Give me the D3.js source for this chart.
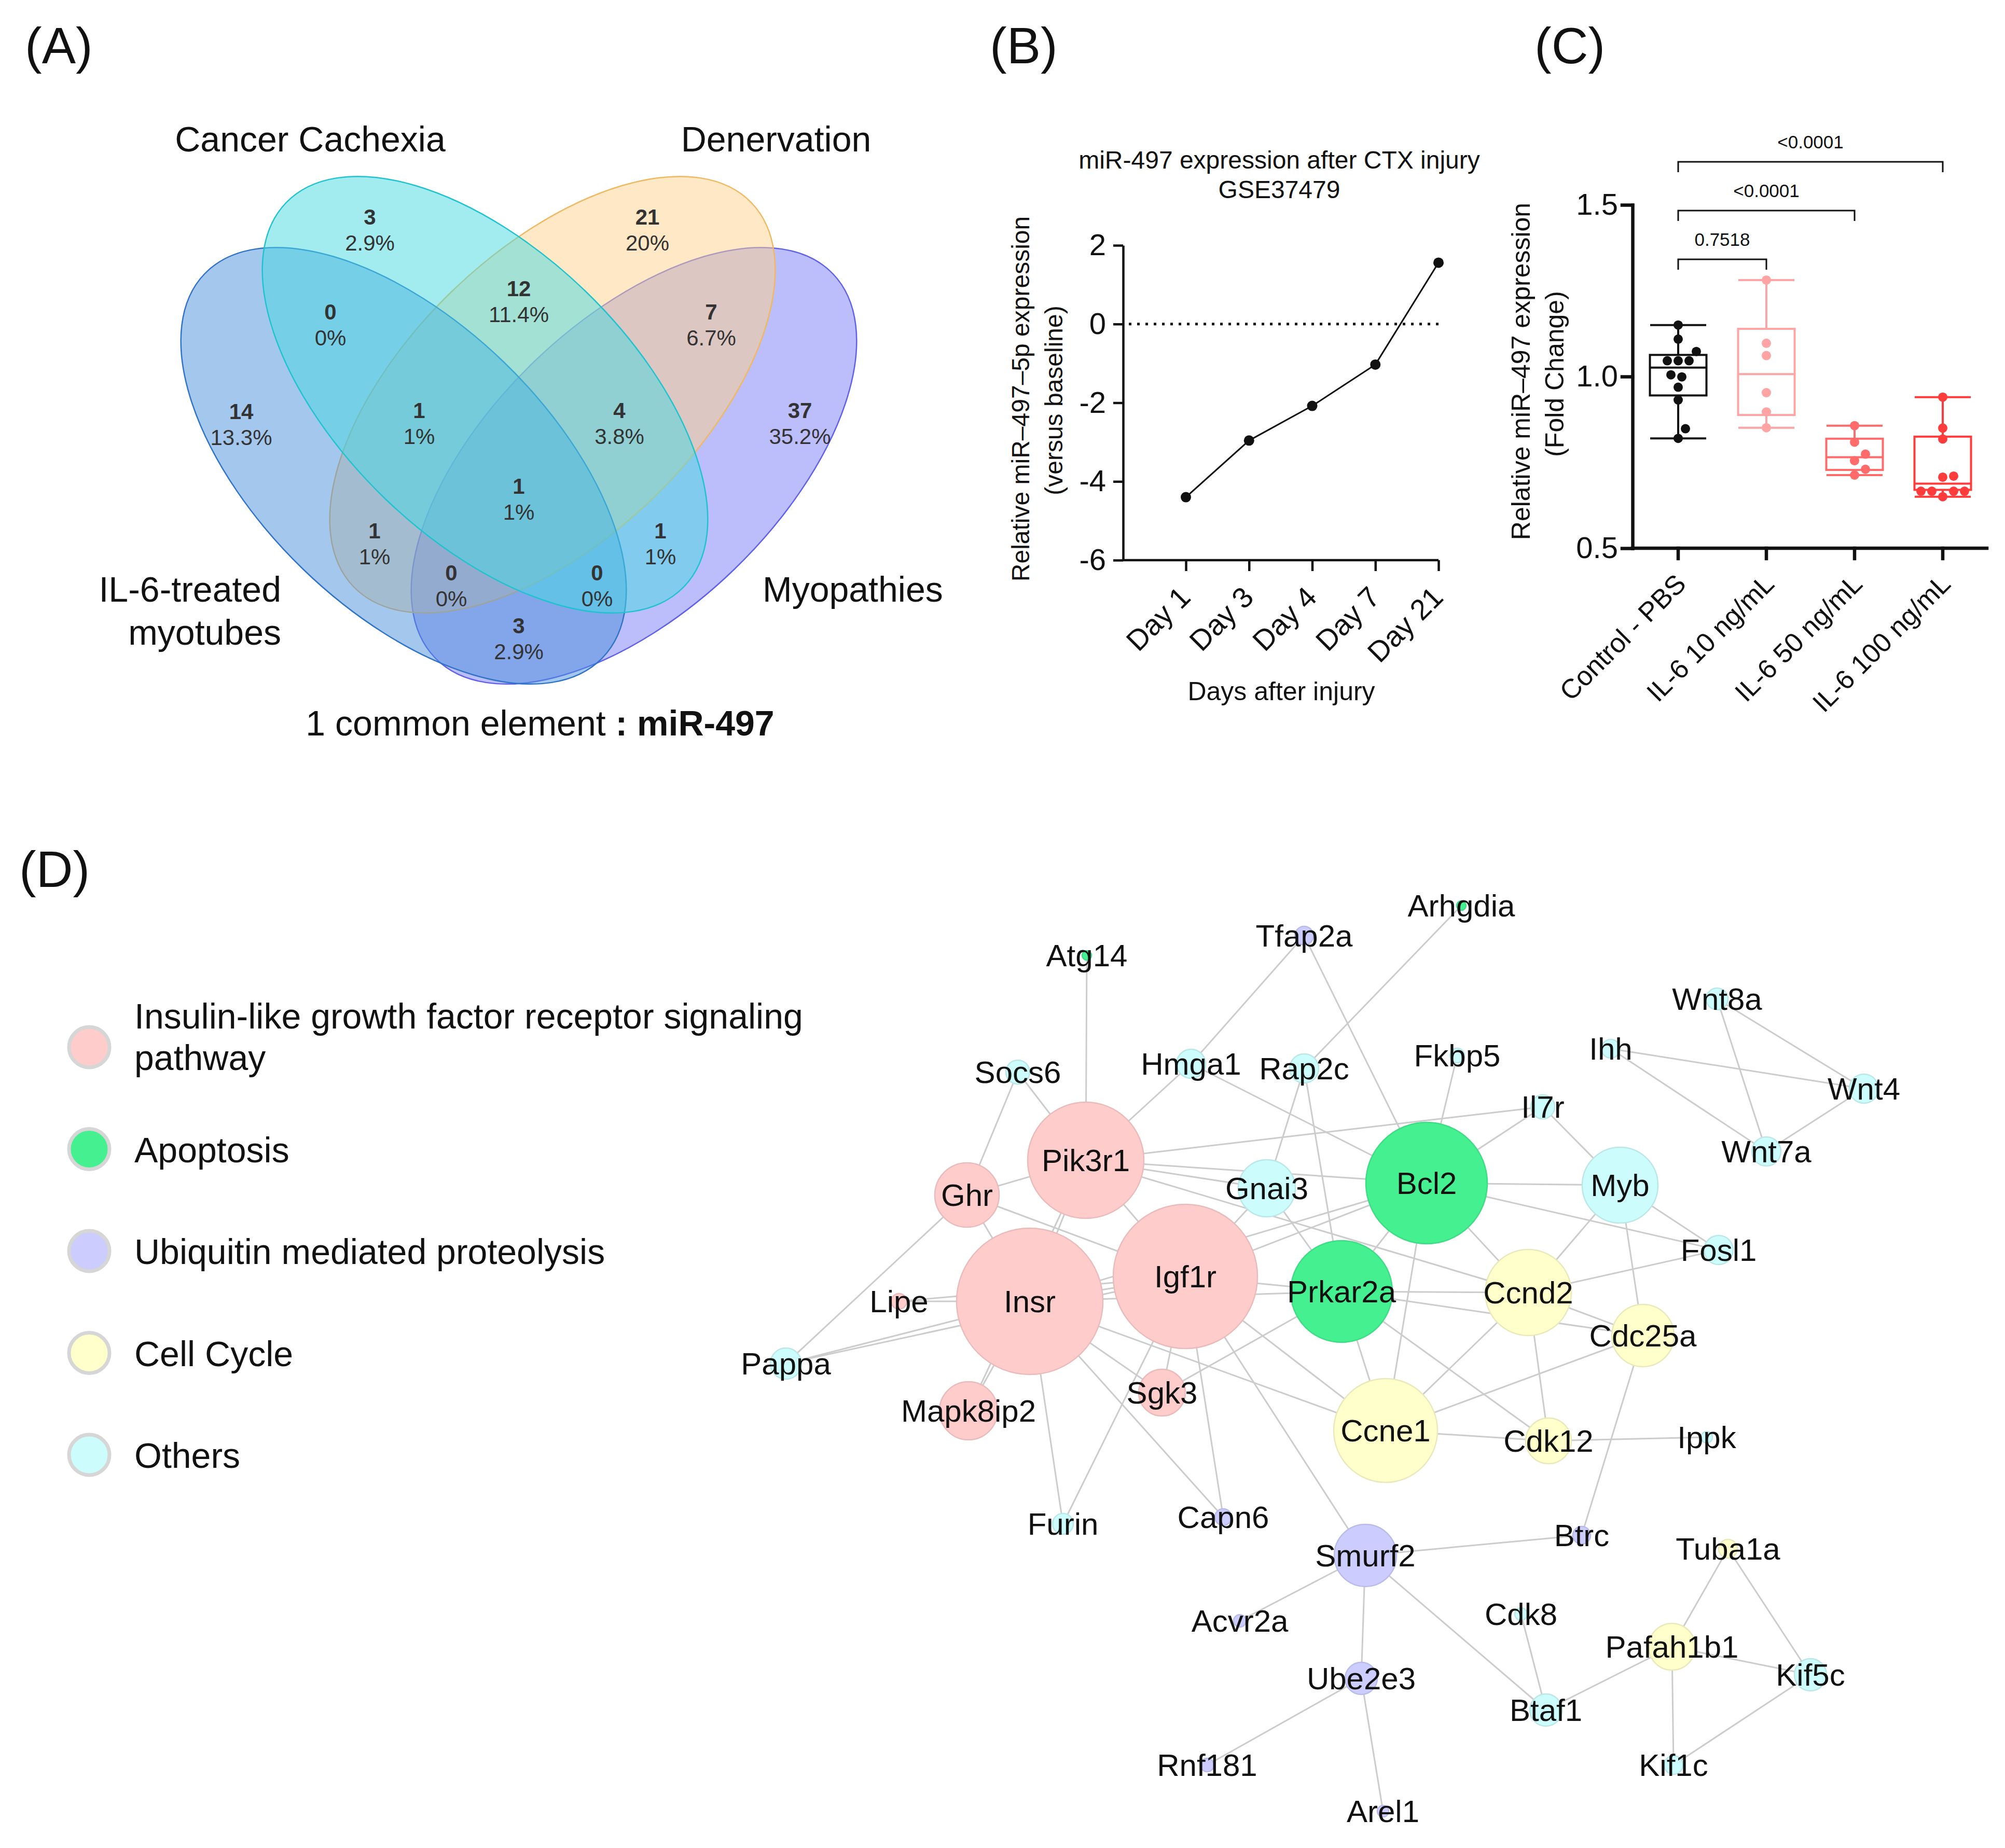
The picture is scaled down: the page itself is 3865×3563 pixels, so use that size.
<!DOCTYPE html>
<html>
<head>
<meta charset="utf-8">
<script src="https://cdn.jsdelivr.net/npm/d3@7"></script>
<style>
  html, body { margin: 0; padding: 0; background: #fff; }
  svg { display: block; font-family: "Liberation Sans", Arial, sans-serif; }
</style>
</head>
<body>
<div id="fig"></div>
<script>
// ---------- data ----------
// (A) Venn
const vennNames = ["IL-6-treated myotubes", "Cancer Cachexia", "Denervation", "Myopathies"];
const regionKeys = ["A", "B", "C", "D", "AB", "BC", "CD", "ABC", "BCD", "ABCD", "AC", "BD", "ACD", "ABD", "AD"];
const regionCounts = [14, 3, 21, 37, 0, 12, 7, 1, 4, 1, 1, 1, 0, 0, 3];
const commonElement = "miR-497";

// (B) line chart
const days = ["Day 1", "Day 3", "Day 4", "Day 7", "Day 21"];
const mirValues = [-4.40, -2.96, -2.08, -1.03, 1.56];
const yTicksB = [-6, -4, -2, 0, 2];

// (C) box plot
const groupsC = ["Control - PBS", "IL-6 10 ng/mL", "IL-6 50 ng/mL", "IL-6 100 ng/mL"];
const pointsC = [
  [1.150, 1.109, 1.073, 1.046, 1.046, 1.046, 1.005, 0.999, 0.969, 0.932, 0.848, 0.820],
  [1.281, 1.097, 1.061, 0.953, 0.897, 0.851],
  [0.857, 0.809, 0.774, 0.755, 0.730, 0.713],
  [0.940, 0.850, 0.818, 0.710, 0.707, 0.666, 0.666, 0.666, 0.666, 0.650]
];
const q1C = [0.945, 0.888, 0.728, 0.670];
const medianC = [1.026, 1.007, 0.765, 0.688];
const q3C = [1.063, 1.139, 0.819, 0.825];
const yTicksC = [0.5, 1.0, 1.5];
const comparisons = [[0, 1, "0.7518"], [0, 2, "<0.0001"], [0, 3, "<0.0001"]];

// (D) network
const legendNames = ["Insulin-like growth factor receptor signaling pathway", "Apoptosis",
  "Ubiquitin mediated proteolysis", "Cell Cycle", "Others"];
const genes = ["Insr", "Igf1r", "Pik3r1", "Ghr", "Mapk8ip2", "Sgk3", "Lipe", "Bcl2", "Prkar2a", "Atg14",
  "Arhgdia", "Ccne1", "Ccnd2", "Cdc25a", "Cdk12", "Pafah1b1", "Tuba1a", "Smurf2", "Ube2e3", "Capn6",
  "Btrc", "Tfap2a", "Rnf181", "Arel1", "Acvr2a", "Myb", "Gnai3", "Hmga1", "Rap2c", "Socs6",
  "Pappa", "Furin", "Il7r", "Fosl1", "Wnt8a", "Ihh", "Wnt4", "Wnt7a", "Kif5c", "Btaf1",
  "Kif1c", "Cdk8", "Ippk", "Fkbp5"];
const geneGroup = [0, 0, 0, 0, 0, 0, 0, 1, 1, 1,
  1, 3, 3, 3, 3, 3, 3, 2, 2, 2,
  2, 2, 2, 2, 2, 4, 4, 4, 4, 4,
  4, 4, 4, 4, 4, 4, 4, 4, 4, 4,
  4, 4, 4, 4];
const geneSize = [282, 278, 224, 124, 112, 90, 30, 234, 196, 18,
  18, 200, 166, 120, 88, 90, 36, 120, 62, 32,
  34, 36, 26, 22, 24, 146, 110, 56, 56, 46,
  60, 40, 46, 56, 42, 36, 56, 56, 62, 62,
  36, 24, 22, 28];
// network layout coordinates (layout units)
const layoutX = [585, 885, 693, 464, 467, 840, 333, 1350, 1186, 695,
  1417, 1271, 1546, 1767, 1585, 1823, 1931, 1232, 1224, 958,
  1649, 1114, 927, 1266, 990, 1723, 1042, 896, 1114, 562,
  115, 649, 1574, 1913, 1910, 1705, 2193, 2005, 2090, 1580,
  1826, 1532, 1890, 1409];
const layoutY = [809, 761, 537, 604, 1020, 985, 809, 581, 790, 142,
  46, 1058, 792, 875, 1078, 1475, 1286, 1299, 1536, 1225,
  1260, 104, 1703, 1792, 1425, 585, 591, 351, 360, 367,
  929, 1238, 434, 710, 226, 322, 399, 520, 1529, 1597,
  1703, 1412, 1071, 335];
const edges = [
  ["Pik3r1", "Atg14"], ["Pik3r1", "Socs6"], ["Pik3r1", "Ghr"], ["Pik3r1", "Insr"], ["Pik3r1", "Igf1r"],
  ["Pik3r1", "Hmga1"], ["Pik3r1", "Il7r"], ["Pik3r1", "Bcl2"], ["Pik3r1", "Gnai3"], ["Pik3r1", "Ccnd2"],
  ["Pik3r1", "Mapk8ip2"], ["Ghr", "Socs6"], ["Ghr", "Insr"], ["Ghr", "Igf1r"], ["Ghr", "Pappa"],
  ["Insr", "Igf1r"], ["Insr", "Lipe"], ["Insr", "Pappa"], ["Insr", "Mapk8ip2"], ["Insr", "Furin"],
  ["Insr", "Sgk3"], ["Insr", "Capn6"], ["Insr", "Ccne1"], ["Insr", "Bcl2"], ["Insr", "Prkar2a"],
  ["Igf1r", "Pappa"], ["Igf1r", "Lipe"], ["Igf1r", "Gnai3"], ["Igf1r", "Bcl2"], ["Igf1r", "Prkar2a"],
  ["Igf1r", "Ccne1"], ["Igf1r", "Sgk3"], ["Igf1r", "Capn6"], ["Igf1r", "Smurf2"], ["Igf1r", "Furin"],
  ["Sgk3", "Prkar2a"], ["Bcl2", "Hmga1"], ["Bcl2", "Tfap2a"], ["Bcl2", "Fkbp5"], ["Bcl2", "Il7r"],
  ["Bcl2", "Myb"], ["Bcl2", "Fosl1"], ["Bcl2", "Ccnd2"], ["Bcl2", "Prkar2a"], ["Bcl2", "Ccne1"],
  ["Tfap2a", "Hmga1"], ["Rap2c", "Arhgdia"], ["Rap2c", "Gnai3"], ["Rap2c", "Prkar2a"], ["Gnai3", "Prkar2a"],
  ["Prkar2a", "Ccnd2"], ["Prkar2a", "Ccne1"], ["Prkar2a", "Cdk12"], ["Prkar2a", "Cdc25a"], ["Ccne1", "Ccnd2"],
  ["Ccne1", "Cdc25a"], ["Ccne1", "Cdk12"], ["Ccnd2", "Myb"], ["Ccnd2", "Fosl1"], ["Ccnd2", "Cdc25a"],
  ["Ccnd2", "Cdk12"], ["Myb", "Il7r"], ["Myb", "Fosl1"], ["Myb", "Cdc25a"], ["Cdc25a", "Btrc"],
  ["Cdk12", "Ippk"], ["Wnt8a", "Wnt4"], ["Wnt8a", "Wnt7a"], ["Ihh", "Wnt4"], ["Ihh", "Wnt7a"],
  ["Wnt7a", "Wnt4"], ["Smurf2", "Btrc"], ["Smurf2", "Acvr2a"], ["Smurf2", "Ube2e3"], ["Smurf2", "Btaf1"],
  ["Ube2e3", "Rnf181"], ["Ube2e3", "Arel1"], ["Pafah1b1", "Tuba1a"], ["Pafah1b1", "Kif5c"], ["Pafah1b1", "Kif1c"],
  ["Pafah1b1", "Btaf1"], ["Tuba1a", "Kif5c"], ["Kif5c", "Kif1c"], ["Cdk8", "Btaf1"]
];

// ---------- page ----------
const W = 3865, H = 3563;
const svg = d3.select("#fig").append("svg").attr("width", W).attr("height", H);
svg.append("rect").attr("width", W).attr("height", H).attr("fill", "#fff");

const letterPos = [[48, 122], [1908, 122], [2958, 122], [37, 1710]];
svg.selectAll(".letter").data(["(A)", "(B)", "(C)", "(D)"]).join("text")
  .attr("class", "letter")
  .attr("x", (d, i) => letterPos[i][0]).attr("y", (d, i) => letterPos[i][1])
  .attr("font-size", 98).attr("fill", "#111").text(d => d);

// ---------- (A) Venn ----------
const vennFill = ["#4a90dc", "#45d9e1", "#fdd18b", "#7a7bf7"];
const vennStroke = ["#2f74c8", "#1fc3cf", "#f0b860", "#5f60ec"];
const ellCx = [778, 935, 1065, 1222], ellCy = [898, 761, 761, 898], ellRot = [44, 44, -44, -44];
const venn = svg.append("g");
venn.selectAll("ellipse").data([3, 2, 0, 1]).join("ellipse")
  .attr("transform", i => `translate(${ellCx[i]},${ellCy[i]}) rotate(${ellRot[i]})`)
  .attr("rx", 533).attr("ry", 278)
  .attr("fill", i => vennFill[i]).attr("fill-opacity", 0.5)
  .attr("stroke", i => vennStroke[i]).attr("stroke-width", 2.5);

// label anchor for every region
const regionPos = [[465, 793], [713, 418], [1248, 418], [1542, 791], [637, 601], [1000, 556], [1371, 601],
  [808, 791], [1194, 791], [1000, 937], [722, 1023], [1273, 1023], [870, 1104], [1151, 1104], [1000, 1206]];
const total = d3.sum(regionCounts);
const pct = v => d3.format(".1f")(v / total * 100).replace(/\.0$/, "") + "%";
const reg = venn.selectAll(".reg").data(regionKeys).join("g").attr("class", "reg")
  .attr("transform", (d, i) => `translate(${regionPos[i][0]},${regionPos[i][1]})`);
reg.append("text").attr("text-anchor", "middle").attr("dominant-baseline", "central")
  .attr("font-size", 42).attr("font-weight", "bold").attr("fill", "#333")
  .text((d, i) => regionCounts[i]);
reg.append("text").attr("text-anchor", "middle").attr("dominant-baseline", "central")
  .attr("y", 50).attr("font-size", 42).attr("fill", "#333")
  .text((d, i) => pct(regionCounts[i]));

const setLab = venn.append("g").attr("font-size", 68).attr("fill", "#111");
setLab.append("text").attr("x", 598).attr("y", 292).attr("text-anchor", "middle").text(vennNames[1]);
setLab.append("text").attr("x", 1496).attr("y", 292).attr("text-anchor", "middle").text(vennNames[2]);
setLab.append("text").attr("x", 542).attr("y", 1160).attr("text-anchor", "end").text("IL-6-treated");
setLab.append("text").attr("x", 542).attr("y", 1243).attr("text-anchor", "end").text("myotubes");
setLab.append("text").attr("x", 1470).attr("y", 1160).text(vennNames[3]);
const common = setLab.append("text").attr("x", 1041).attr("y", 1418).attr("text-anchor", "middle");
common.append("tspan").text(`${regionCounts[regionKeys.indexOf("ABCD")]} common element `);
common.append("tspan").attr("font-weight", "bold").text(": " + commonElement);

// ---------- (B) line chart ----------
const xB = d3.scalePoint().domain(days).range([2286, 2773]);
const yB = d3.scaleLinear().domain([-6, 2]).range([1080, 473]);
const gB = svg.append("g");
const yAxB = gB.append("g").attr("transform", "translate(2165,0)")
  .call(d3.axisLeft(yB).tickValues(yTicksB).tickFormat(d => String(d)).tickSize(19).tickSizeOuter(0).tickPadding(14));
const xAxB = gB.append("g").attr("transform", `translate(0,${yB(-6)})`)
  .call(d3.axisBottom(xB).tickSize(21).tickSizeOuter(0).tickFormat(""));
xAxB.select(".domain").attr("d", `M2165,0H${xB(days[days.length - 1])}`);
gB.selectAll(".domain, .tick line").attr("stroke", "#111").attr("stroke-width", 4.5);
yAxB.selectAll("text").attr("font-size", 58).attr("fill", "#111").attr("font-family", null);

gB.selectAll(".dayLab").data(days).join("text").attr("class", "dayLab")
  .attr("transform", d => `translate(${xB(d) + 12},${yB(-6) + 75}) rotate(-45)`)
  .attr("text-anchor", "end").attr("font-size", 56).attr("fill", "#111").text(d => d);

gB.append("line").attr("x1", 2176).attr("x2", xB(days[days.length - 1]))
  .attr("y1", yB(0)).attr("y2", yB(0))
  .attr("stroke", "#111").attr("stroke-width", 5).attr("stroke-dasharray", "5 11");

gB.append("path").datum(mirValues)
  .attr("d", d3.line().x((d, i) => xB(days[i])).y(d => yB(d)))
  .attr("fill", "none").attr("stroke", "#111").attr("stroke-width", 3);
gB.selectAll(".pt").data(mirValues).join("circle").attr("class", "pt")
  .attr("cx", (d, i) => xB(days[i])).attr("cy", d => yB(d)).attr("r", 10).attr("fill", "#111");

gB.append("text").attr("x", 2466).attr("y", 325).attr("text-anchor", "middle")
  .attr("font-size", 48).attr("fill", "#111").text("miR-497 expression after CTX injury");
gB.append("text").attr("x", 2466).attr("y", 382).attr("text-anchor", "middle")
  .attr("font-size", 48).attr("fill", "#111").text("GSE37479");
gB.append("text").attr("transform", "translate(1967,769) rotate(-90)").attr("text-anchor", "middle")
  .attr("dominant-baseline", "central").attr("font-size", 48).attr("fill", "#111")
  .text("Relative miR–497–5p expression");
gB.append("text").attr("transform", "translate(2031,772) rotate(-90)").attr("text-anchor", "middle")
  .attr("dominant-baseline", "central").attr("font-size", 48).attr("fill", "#111")
  .text("(versus baseline)");
gB.append("text").attr("x", 2470).attr("y", 1350).attr("text-anchor", "middle")
  .attr("font-size", 50).attr("fill", "#111").text("Days after injury");

// ---------- (C) box plot ----------
const colorsC = ["#111111", "#ffa4a4", "#ff6a6a", "#ff3c3c"];
const xC = d3.scaleBand().domain(groupsC).range([3150, 3830]);
const yC = d3.scaleLinear().domain([0.5, 1.5]).range([1057, 395]);
const gC = svg.append("g");
const yAxC = gC.append("g").attr("transform", "translate(3147,0)")
  .call(d3.axisLeft(yC).tickValues(yTicksC).tickFormat(d3.format(".1f")).tickSize(20).tickSizeOuter(0).tickPadding(8));
const xAxC = gC.append("g").attr("transform", `translate(0,${yC(0.5)})`)
  .call(d3.axisBottom(xC).tickSize(20).tickSizeOuter(0).tickFormat(""));
xAxC.select(".domain").attr("d", "M3147,0H3830");
gC.selectAll(".domain, .tick line").attr("stroke", "#111").attr("stroke-width", 6.5).attr("stroke-linecap", "square");
yAxC.selectAll("text").attr("font-size", 58).attr("fill", "#111").attr("font-family", null);

gC.selectAll(".grpLab").data(groupsC).join("text").attr("class", "grpLab")
  .attr("transform", d => `translate(${xC(d) + xC.bandwidth() / 2 + 18},${yC(0.5) + 72}) rotate(-45)`)
  .attr("text-anchor", "end").attr("font-size", 52).attr("fill", "#111").text(d => d);

const boxW = 109, capW = 54, dotR = 9;
groupsC.forEach((g, gi) => {
  const cx = xC(g) + xC.bandwidth() / 2;
  const col = colorsC[gi];
  const [mn, mx] = d3.extent(pointsC[gi]);
  const bg = gC.append("g").attr("stroke", col).attr("stroke-width", 4).attr("fill", "none");
  bg.append("line").attr("x1", cx).attr("x2", cx).attr("y1", yC(mx)).attr("y2", yC(q3C[gi]));
  bg.append("line").attr("x1", cx).attr("x2", cx).attr("y1", yC(q1C[gi])).attr("y2", yC(mn));
  bg.append("line").attr("x1", cx - capW).attr("x2", cx + capW).attr("y1", yC(mx)).attr("y2", yC(mx));
  bg.append("line").attr("x1", cx - capW).attr("x2", cx + capW).attr("y1", yC(mn)).attr("y2", yC(mn));
  bg.append("rect").attr("x", cx - boxW / 2).attr("width", boxW)
    .attr("y", yC(q3C[gi])).attr("height", yC(q1C[gi]) - yC(q3C[gi]));
  bg.append("line").attr("x1", cx - boxW / 2).attr("x2", cx + boxW / 2)
    .attr("y1", yC(medianC[gi])).attr("y2", yC(medianC[gi]));

  // simple beeswarm so dots do not overlap
  const placed = [];
  const order = pointsC[gi].slice().sort((a, b) => a - b);
  const steps = [0, 1, -1, 2, -2, 3, -3, 4, -4, 5, -5, 6, -6];
  order.forEach(v => {
    const y = yC(v);
    for (const s of steps) {
      const x = cx + s * 7;
      if (placed.every(p => Math.hypot(p.x - x, p.y - y) >= 2 * dotR + 2)) { placed.push({x, y}); break; }
    }
  });
  gC.append("g").selectAll("circle").data(placed).join("circle")
    .attr("cx", d => d.x).attr("cy", d => d.y).attr("r", dotR).attr("fill", col);
});

comparisons.forEach(([a, b, label], i) => {
  const xa = xC(groupsC[a]) + xC.bandwidth() / 2, xb = xC(groupsC[b]) + xC.bandwidth() / 2;
  const ly = 500 - i * 94;
  gC.append("path").attr("d", `M${xa},${ly + 20}V${ly}H${xb}V${ly + 20}`)
    .attr("fill", "none").attr("stroke", "#111").attr("stroke-width", 3);
  gC.append("text").attr("x", (xa + xb) / 2).attr("y", ly - 26).attr("text-anchor", "middle")
    .attr("font-size", 35).attr("fill", "#111").text(label);
});

gC.append("text").attr("transform", "translate(2932,716) rotate(-90)").attr("text-anchor", "middle")
  .attr("dominant-baseline", "central").attr("font-size", 50).attr("fill", "#111")
  .text("Relative miR–497 expression");
gC.append("text").attr("transform", "translate(2997,721) rotate(-90)").attr("text-anchor", "middle")
  .attr("dominant-baseline", "central").attr("font-size", 50).attr("fill", "#111")
  .text("(Fold Change)");

// ---------- (D) legend + network ----------
const groupColor = ["#ffcccc", "#44f090", "#ccccff", "#ffffcc", "#ccfcfc"];
const legY = d3.scalePoint().domain(legendNames).range([2019, 2805]);
const leg = svg.append("g");
leg.selectAll("circle").data(legendNames).join("circle")
  .attr("cx", 172).attr("cy", d => legY(d)).attr("r", 39)
  .attr("fill", (d, i) => groupColor[i]).attr("stroke", "#d6d6d6").attr("stroke-width", 7);
leg.selectAll("text").data(legendNames).join("text")
  .attr("x", 259).attr("y", d => legY(d) + 25).attr("font-size", 68).attr("fill", "#111")
  .each(function (d, i) {
    const t = d3.select(this);
    if (i === 0) {
      t.append("tspan").attr("x", 259).attr("dy", -61).text("Insulin-like growth factor receptor signaling");
      t.append("tspan").attr("x", 259).attr("dy", 80).text("pathway");
    } else t.text(d);
  });

const netX = d3.scaleLinear().domain([0, 2300]).range([1400, 3700]);
const netY = d3.scaleLinear().domain([0, 1850]).range([1700, 3550]);
const netR = d3.scaleLinear().domain([0, 300]).range([0, 150]);
const nodes = genes.map((g, i) => ({name: g, group: geneGroup[i], size: geneSize[i], x: netX(layoutX[i]), y: netY(layoutY[i])}));
const byName = new Map(nodes.map(n => [n.name, n]));
const net = svg.append("g");
net.append("g").selectAll("line").data(edges).join("line")
  .attr("x1", d => byName.get(d[0]).x).attr("y1", d => byName.get(d[0]).y)
  .attr("x2", d => byName.get(d[1]).x).attr("y2", d => byName.get(d[1]).y)
  .attr("stroke", "#cccccc").attr("stroke-width", 3);
net.append("g").selectAll("circle").data(nodes).join("circle")
  .attr("cx", d => d.x).attr("cy", d => d.y).attr("r", d => netR(d.size))
  .attr("fill", d => groupColor[d.group])
  .attr("stroke", d => d3.color(groupColor[d.group]).darker(0.25)).attr("stroke-width", 2.5);
net.append("g").selectAll("text").data(nodes).join("text")
  .attr("x", d => d.x).attr("y", d => d.y)
  .attr("text-anchor", "middle").attr("dominant-baseline", "central")
  .attr("font-size", 60).attr("fill", "#111").text(d => d.name);
</script>
</body>
</html>
